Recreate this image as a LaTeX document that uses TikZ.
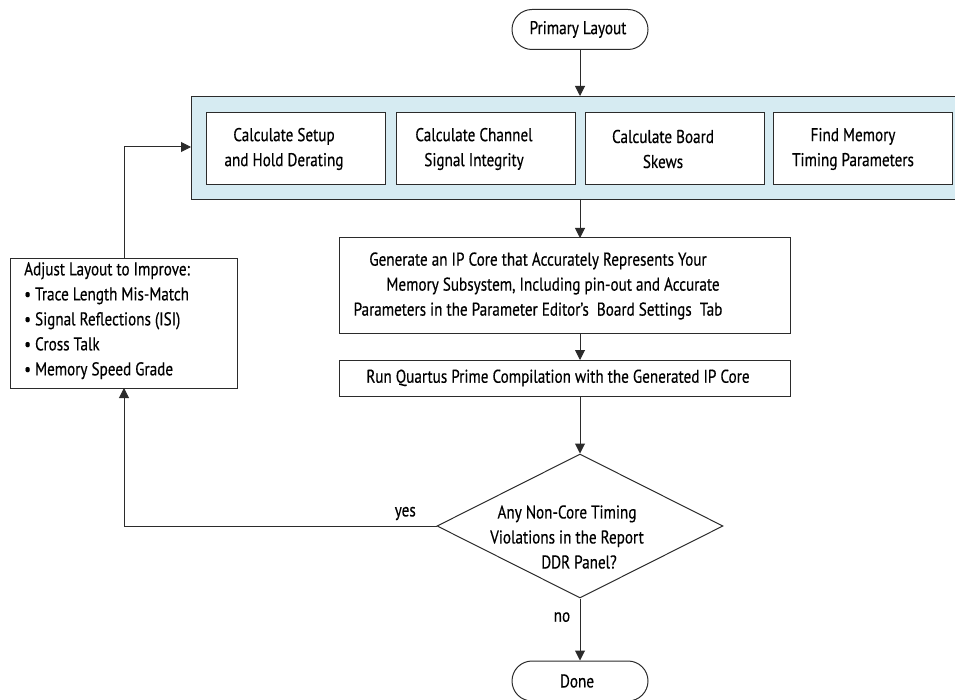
\documentclass[tikz,border=0pt]{standalone}
\usepackage{fontspec}
\setmainfont[FakeStretch=0.82,FakeBold=0.4]{PT Sans}
\usetikzlibrary{shapes.geometric,arrows.meta}
\definecolor{bandblue}{HTML}{D6EBF2}
\definecolor{edge}{HTML}{2B2B2B}
\tikzset{
  every node/.style={font=\fontsize{18.5}{25}\selectfont},
  pill/.style={draw=edge,line width=1pt,rounded corners=20pt,minimum width=136pt,minimum height=40pt,inner sep=0pt},
  calcbox/.style={draw=edge,line width=0.9pt,fill=white,minimum width=179pt,minimum height=72pt,inner sep=0pt},
  procbox/.style={draw=edge,line width=1pt,minimum width=451pt,inner sep=0pt},
  plain/.style={inner sep=0pt,align=center},
  decision/.style={draw=edge,line width=1pt,diamond,minimum width=286pt,minimum height=144pt,inner sep=0pt},
  arr/.style={draw=edge,line width=1pt,-{Triangle[length=10pt,width=10pt]}},
  ln/.style={draw=edge,line width=1pt}
}
\begin{document}
\begin{tikzpicture}[x=1pt,y=-1pt]
\useasboundingbox (0,0) rectangle (955,700);
\clip (0,0) rectangle (955,700);
% start
\node[pill] (start) at (580,29.5) {\hspace*{-4pt}Primary Layout};
% band
\node[draw=edge,line width=1pt,fill=bandblue,minimum width=775pt,minimum height=103pt,inner sep=0pt,anchor=north west] (band) at (191,96) {};
\node[calcbox] (c1) at (295.5,148) {};
\node[calcbox] (c2) at (486,148) {};
\node[calcbox] (c3) at (674.5,148) {};
\node[calcbox] (c4) at (863,148) {};
\node[plain] (c1t) at (284,149) {Calculate Setup\\and Hold Derating};
\node[plain] (c2t) at (474,149) {Calculate Channel\\Signal Integrity};
\node[plain] (c3t) at (663,149) {Calculate Board\\Skews};
\node[plain] (c4t) at (853,149) {Find Memory\\Timing Parameters};
% generate
\node[procbox,minimum height=95pt] (gen) at (564.5,285.5) {};
\node[plain] (gent) at (538,286) {Generate an IP Core that Accurately Represents Your\\\hspace*{30pt}Memory Subsystem, Including pin-out and Accurate\\Parameters in the Parameter Editor's\ \ Board Settings\ \ Tab};
% run
\node[procbox,minimum height=36pt] (run) at (564.5,378) {};
\node[plain] (runt) at (558,378) {Run Quartus Prime Compilation with the Generated IP Core};
% decision
\node[decision] (dec) at (580,526) {};
\node[plain] (dect) at (567,537) {Any Non-Core Timing\\Violations in the Report\\\hspace*{24pt}DDR Panel?};
% done
\node[pill] (done) at (580,681) {\hspace*{-6pt}Done};
% adjust
\node[draw=edge,line width=1pt,minimum width=227pt,minimum height=130pt,inner sep=0pt,anchor=north west] (adj) at (10,258) {};
\node[inner sep=0pt,align=left,anchor=north west] (adjt) at (24,262) {Adjust Layout to Improve:\\\textbullet\ Trace Length Mis-Match\\\textbullet\ Signal Reflections (ISI)\\\textbullet\ Cross Talk\\\textbullet\ Memory Speed Grade};
% connectors
\path[arr] (start) -- (start|-band.north);
\path[arr] (580,199) -- (580,238);
\path[arr] (580,333) -- (580,360);
\path[arr] (580,396) -- (dec.north);
\path[arr] (dec.south) -- node[left,pos=0.3,xshift=-6pt] (no) {no} (done.north);
\coordinate (ycorner) at (124,526);
\path[ln] (dec.west) -- node[above,pos=0.1,yshift=2pt] (yes) {yes} (ycorner);
\path[arr] (ycorner) -- (124,388);
\coordinate (acorner) at (124,147);
\path[ln] (124,258) -- (acorner);
\path[arr] (acorner) -- (band.west|-acorner);
\end{tikzpicture}
\end{document}
